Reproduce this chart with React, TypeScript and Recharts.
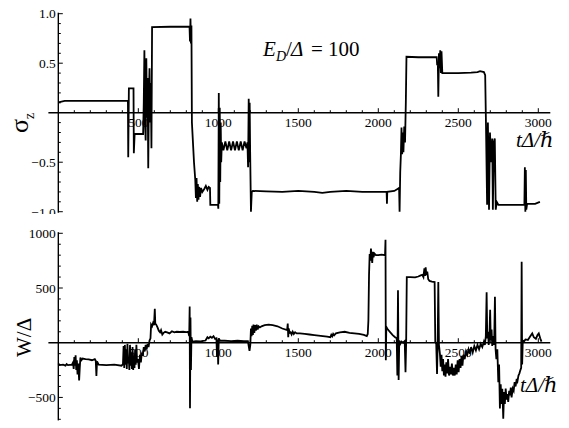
import { LineChart, Line, XAxis, YAxis, ReferenceLine } from 'recharts'

// sigma_z(t) as [tΔ/ħ, σz]
const SIGMA_Z: [number, number][] = [
  [0, 0.105], [40, 0.12], [435, 0.12], [437, -0.45], [441, 0.245], [470, 0.245], [472, -0.41],
  [477, -0.215], [530, -0.215], [534, 0.1], [538, 0.63], [542, -0.1], [546, -0.28], [550, 0.55],
  [554, -0.05], [558, 0.35], [562, -0.56], [566, 0.15], [570, 0.45], [574, -0.1], [578, 0.3],
  [582, -0.36], [586, 0.865], [700, 0.868], [820, 0.87], [823, 0.72], [826, 0.95], [829, 0.7],
  [832, 0.88], [835, -0.1], [848, -0.5], [856, -0.68], [860, -0.86], [864, -0.66], [868, -0.9],
  [872, -0.72], [876, -0.88], [880, -0.75], [886, -0.85], [892, -0.76], [900, -0.8], [912, -0.77],
  [922, -0.74], [932, -0.78], [940, -0.75], [948, -0.76], [950, -0.93], [998, -0.93], [1000, -0.97],
  [1003, 0.2], [1006, -0.92], [1009, 0.05], [1012, -0.7], [1015, -0.1], [1018, -0.5], [1022, -0.3],
  [1032, -0.38], [1044, -0.29], [1056, -0.38], [1068, -0.29], [1080, -0.38], [1092, -0.29],
  [1104, -0.38], [1116, -0.29], [1128, -0.38], [1140, -0.29], [1152, -0.38], [1164, -0.29],
  [1176, -0.36], [1182, -0.3], [1186, -0.55], [1190, 0.14], [1193, -0.5], [1196, 0.1], [1199, -0.4],
  [1204, -1.0], [1209, -0.8], [1216, -0.79], [1300, -0.795], [1400, -0.8], [1500, -0.79],
  [1600, -0.8], [1650, -0.81], [1700, -0.8], [1800, -0.79], [1900, -0.8], [2000, -0.8], [2052, -0.8],
  [2054, -0.92], [2056, -0.8], [2100, -0.79], [2120, -0.77], [2130, -0.76], [2133, -1.0],
  [2137, -0.6], [2141, -0.43], [2145, -0.15], [2149, -0.42], [2153, -0.2], [2157, -0.4],
  [2162, -0.14], [2167, -0.3], [2172, 0.1], [2176, 0.565], [2250, 0.56], [2365, 0.56], [2368, 0.48],
  [2372, 0.5], [2375, 0.16], [2379, 0.6], [2383, 0.45], [2387, 0.63], [2391, 0.4], [2395, 0.62],
  [2400, 0.4], [2500, 0.4], [2580, 0.405], [2620, 0.41], [2636, 0.42], [2660, 0.41], [2668, 0.38],
  [2673, -0.12], [2680, -0.93], [2685, -0.1], [2692, -0.98], [2698, -0.2], [2705, -0.5],
  [2712, -0.26], [2716, -0.98], [2722, -0.3], [2728, -0.26], [2734, -0.98], [2740, -0.9],
  [2750, -0.93], [2850, -0.93], [2913, -0.93], [2916, -0.55], [2919, -1.0], [2922, -0.58],
  [2925, -0.98], [2930, -0.92], [2980, -0.92], [3010, -0.9],
]

// W/Δ(t), lower panel
const W_OVER_DELTA: [number, number][] = [
  [0, -190], [8, -205], [30, -200], [45, -210], [52, -195], [60, -205], [85, -200], [92, -180],
  [96, -240], [100, -130], [104, -210], [108, -115], [112, -250], [116, -160], [120, -290],
  [125, -190], [130, -345], [134, -230], [138, -135], [144, -160], [152, -145], [170, -150],
  [190, -152], [210, -160], [228, -150], [234, -165], [238, -305], [242, -170], [252, -200],
  [300, -205], [350, -200], [395, -210], [404, -195], [408, -30], [412, -230], [416, -20],
  [420, -200], [424, -60], [428, -240], [432, -10], [436, -190], [440, -130], [444, -250],
  [448, -20], [452, -210], [456, -90], [460, -240], [464, -40], [468, -250], [472, -120],
  [476, -230], [480, -60], [484, -200], [488, -20], [492, -180], [498, -150], [504, -240],
  [510, -110], [516, -180], [522, -90], [528, -120], [534, -40], [540, -80], [546, -20], [552, -60],
  [558, -10], [564, -40], [570, 20], [576, 40], [580, 165], [586, 150], [592, 180], [598, 160],
  [603, 310], [606, 175], [612, 165], [620, 140], [628, 110], [636, 95], [642, 115], [650, 75],
  [658, 90], [668, 100], [680, 95], [695, 85], [710, 105], [725, 95], [740, 100], [760, 98],
  [780, 100], [800, 96], [812, 100], [818, 60], [821, 330], [823, -600], [826, 230], [829, -250],
  [832, 50], [838, 10], [860, 15], [890, 12], [920, 20], [932, 50], [940, 40], [950, 55], [960, 45],
  [970, 60], [980, 35], [988, 40], [992, -130], [996, 30], [999, -200], [1003, 40], [1010, 20],
  [1040, 18], [1080, 15], [1120, 18], [1160, 14], [1185, 15], [1190, -30], [1195, -75],
  [1200, -20], [1204, 130], [1208, 60], [1212, 155], [1216, 70], [1220, 165], [1225, 90],
  [1230, 160], [1235, 110], [1240, 165], [1246, 120], [1252, 150], [1260, 140], [1270, 150],
  [1290, 160], [1315, 165], [1340, 160], [1370, 150], [1400, 130], [1430, 115], [1434, 175],
  [1437, 50], [1440, 130], [1446, 90], [1452, 95], [1458, 75], [1465, 100], [1472, 80], [1480, 95],
  [1490, 85], [1510, 85], [1540, 80], [1570, 75], [1600, 70], [1640, 62], [1680, 55], [1700, 50],
  [1706, 72], [1712, 58], [1718, 80], [1724, 68], [1735, 85], [1760, 95], [1790, 100], [1820, 90],
  [1850, 85], [1880, 80], [1910, 72], [1928, 60], [1934, 80], [1938, 200], [1942, 620],
  [1946, 810], [1950, 750], [1954, 860], [1958, 790], [1962, 730], [1966, 830], [1970, 780],
  [1976, 815], [1985, 800], [2000, 800], [2020, 805], [2042, 800], [2045, 940], [2047, -160],
  [2050, 145], [2060, 120], [2075, 95], [2090, 70], [2105, 50], [2115, 40], [2119, -300],
  [2123, 480], [2127, -340], [2131, 20], [2138, -10], [2145, 10], [2155, 0], [2165, 15],
  [2170, -270], [2174, -5], [2178, 600], [2200, 600], [2230, 598], [2250, 605], [2265, 615],
  [2275, 620], [2282, 600], [2288, 680], [2292, 610], [2296, 690], [2300, 620], [2306, 650],
  [2312, 580], [2320, 565], [2335, 558], [2352, 555], [2356, 10], [2362, -10], [2367, -285],
  [2371, -10], [2375, 555], [2379, -20], [2385, -100], [2390, -220], [2395, -110], [2400, -260],
  [2405, -150], [2410, -300], [2415, -200], [2420, -310], [2425, -180], [2430, -280], [2436, -150],
  [2442, -300], [2448, -220], [2454, -290], [2460, -190], [2466, -300], [2472, -230], [2478, -300],
  [2484, -200], [2490, -290], [2496, -160], [2502, -270], [2508, -150], [2514, -230], [2520, -120],
  [2526, -210], [2532, -110], [2540, -150], [2548, -80], [2556, -110], [2564, -60], [2572, -100],
  [2580, -40], [2590, -90], [2600, -30], [2610, -70], [2620, -20], [2630, -60], [2640, -10],
  [2650, -40], [2660, 10], [2666, -20], [2672, 60], [2677, 460], [2681, 40], [2686, 100],
  [2690, -20], [2695, 90], [2699, 300], [2703, 20], [2708, 120], [2712, -30], [2718, 60],
  [2724, -20], [2729, 420], [2733, -60], [2738, -150], [2744, -60], [2750, -360], [2755, -200],
  [2760, -600], [2765, -380], [2770, -560], [2775, -420], [2781, -695], [2786, -450], [2791, -560],
  [2796, -420], [2802, -520], [2807, -470], [2812, -540], [2818, -440], [2823, -480], [2828, -410],
  [2833, -500], [2840, -420], [2846, -440], [2852, -360], [2858, -400], [2865, -330], [2870, -350],
  [2876, -300], [2882, -280], [2888, -250], [2893, -230], [2896, 740], [2899, -200], [2903, 20],
  [2910, 10], [2920, 30], [2935, 25], [2950, 60], [2962, 85], [2972, 50], [2985, 35], [2995, 70],
  [3003, 85], [3012, 40], [3020, 10],
]

const T_TICKS = [500, 1000, 1500, 2000, 2500, 3000]
const T_LABELS = ['500', '1000', '1500', '2000', '2500', '3000']
const SIGMA_TICKS = [1.0, 0.5, -0.5, -1.0]
const SIGMA_LABELS = ['1.0', '0.5', '\u22120.5', '\u22121.0']
const W_TICKS = [1000, 500, -500]
const W_LABELS = ['1000', '500', '\u2212500']

const range = (from: number, to: number, step: number) => {
  const out: number[] = []
  for (let i = 0; from + i * step <= to + 1e-9; i++) out.push(Math.round((from + i * step) * 1000) / 1000)
  return out
}

const T_MINOR = range(100, 3000, 100).filter((t) => !T_TICKS.includes(t))
const SIGMA_MINOR = range(-0.9, 0.9, 0.1).filter((v) => Math.abs(v) > 0.01 && Math.abs(Math.abs(v) - 0.5) > 0.01)
const W_MINOR = range(-700, 900, 100).filter((v) => v !== 0 && !W_TICKS.includes(v))

const FONT = 'Liberation Serif, DejaVu Serif, Times New Roman, serif'
const T_DOMAIN: [number, number] = [-62, 3075]
const PX_PER_T = 0.16

interface PanelProps {
  points: [number, number][]
  yDomain: [number, number]
  pxPerY: number
  yMajor: number[]
  yLabels: string[]
  yMinor: number[]
  margin: { top: number; right: number; bottom: number; left: number }
}

function Panel({ points, yDomain, pxPerY, yMajor, yLabels, yMinor, margin }: PanelProps) {
  const data = points.map(([t, v]) => ({ t, v }))
  const perPxT = 1 / PX_PER_T
  const perPxY = 1 / pxPerY
  const labelStyle = { fill: '#000', fontSize: 13.5, fontFamily: FONT }
  return (
    <LineChart width={569} height={214} data={data} margin={margin} style={{ fontFamily: FONT }}>
      <XAxis dataKey="t" type="number" domain={T_DOMAIN} hide allowDataOverflow />
      <YAxis type="number" domain={yDomain} hide allowDataOverflow />
      <ReferenceLine y={0} stroke="#000" strokeWidth={1.4} />
      <ReferenceLine x={0} stroke="#000" strokeWidth={1.4} />
      {T_MINOR.map((t) => (
        <ReferenceLine key={'tm' + t} segment={[{ x: t, y: 2.5 * perPxY }, { x: t, y: 0 }]} stroke="#000" strokeWidth={1} />
      ))}
      {T_TICKS.map((t, i) => (
        <ReferenceLine
          key={'tM' + t}
          segment={[{ x: t, y: 4.5 * perPxY }, { x: t, y: 0 }]}
          stroke="#000"
          strokeWidth={1}
          label={{ value: T_LABELS[i], position: 'bottom', offset: 5, ...labelStyle }}
        />
      ))}
      {yMinor.map((v) => (
        <ReferenceLine key={'ym' + v} segment={[{ x: 0, y: v }, { x: 2.5 * perPxT, y: v }]} stroke="#000" strokeWidth={1} />
      ))}
      {yMajor.map((v, i) => (
        <ReferenceLine
          key={'yM' + v}
          segment={[{ x: 0, y: v }, { x: 4.5 * perPxT, y: v }]}
          stroke="#000"
          strokeWidth={1}
          label={{ value: yLabels[i], position: 'left', offset: 2.5, ...labelStyle }}
        />
      ))}
      <Line dataKey="v" type="linear" dot={false} stroke="#000" strokeWidth={1.8} isAnimationActive={false} />
    </LineChart>
  )
}

export default function App() {
  return (
    <div style={{ position: 'absolute', left: 0, top: 0, width: 569, height: 428, background: '#fff', overflow: 'hidden', fontFamily: FONT }}>
      <div style={{ position: 'absolute', left: 0, top: 0 }}>
        <Panel
          points={SIGMA_Z}
          yDomain={[-1.01, 1.01]}
          pxPerY={99}
          yMajor={SIGMA_TICKS}
          yLabels={SIGMA_LABELS}
          yMinor={SIGMA_MINOR}
          margin={{ top: 12.7, right: 18.7, bottom: 1.3, left: 48.4 }}
        />
      </div>
      <div style={{ position: 'absolute', left: 0, top: 214 }}>
        <Panel
          points={W_OVER_DELTA}
          yDomain={[-710, 1010]}
          pxPerY={0.1094}
          yMajor={W_TICKS}
          yLabels={W_LABELS}
          yMinor={W_MINOR}
          margin={{ top: 18.2, right: 18.7, bottom: 7.6, left: 48.4 }}
        />
      </div>
      <svg width={569} height={428} style={{ position: 'absolute', left: 0, top: 0, pointerEvents: 'none' }}>
        <g fill="#000" fontFamily={FONT}>
          <text transform="translate(28,133) rotate(-90)" fontSize={26}>
            σ<tspan fontSize={14} dy={6}>z</tspan>
          </text>
          <text transform="translate(31,357) rotate(-90)" fontSize={21}>W/Δ</text>
          <text x={263} y={56} fontSize={21} fontStyle="italic">E</text>
          <text x={276} y={61} fontSize={14} fontStyle="italic">D</text>
          <text x={286} y={56} fontSize={21}>/</text>
          <text x={291} y={56} fontSize={21} fontStyle="italic">Δ</text>
          <text x={311} y={56} fontSize={21}>= 100</text>
          <text x={516} y={147} fontSize={21} fontStyle="italic">tΔ/ℏ</text>
          <text x={520} y={392} fontSize={21} fontStyle="italic">tΔ/ℏ</text>
        </g>
      </svg>
    </div>
  )
}
